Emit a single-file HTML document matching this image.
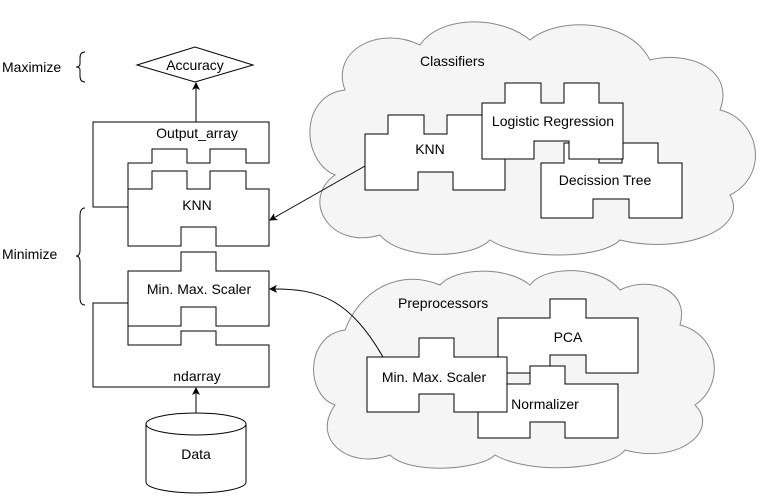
<!DOCTYPE html>
<html><head><style>body{margin:0;background:#fff}svg{display:block}text{font-family:"Liberation Sans",Arial,sans-serif;font-size:14px;fill:#000}</style></head><body>
<svg width="761" height="500" viewBox="0 0 761 500">
<defs><marker id="a" markerWidth="8" markerHeight="8" refX="7" refY="4" orient="auto" markerUnits="userSpaceOnUse"><path d="M0,0 L8,4 L0,8 L2,4 Z" fill="#000"/></marker></defs>
<g fill="#f5f5f5" stroke="#888" stroke-width="1">
<path d="M345,90 C300,95 300,160 335,175 C300,200 330,250 380,235 C400,260 470,260 490,240 C520,260 600,260 620,240 C680,255 750,230 730,195 C770,175 760,120 720,110 C735,70 690,50 650,60 C630,20 560,15 530,40 C500,15 440,15 420,45 C380,25 330,50 345,90 Z"/>
<path d="M345,330 C305,335 305,395 335,405 C310,440 350,470 390,455 C410,475 480,470 495,455 C530,475 610,470 625,450 C680,465 720,430 695,405 C725,385 720,335 680,325 C690,290 650,275 620,290 C600,265 545,265 530,285 C505,265 455,268 440,285 C400,268 360,290 345,330 Z"/>
</g>
<g fill="#fff" stroke="#000" stroke-width="1">
<path d="M365,134 L388,134 L388,115 L424,115 L424,134 L447,134 L447,115 L483,115 L483,134 L505,134 L505,190 L453,190 L453,172 L418,172 L418,190 L365,190 Z"/>
<path d="M541,163 L564,163 L564,143 L599,143 L599,163 L622,163 L622,143 L658,143 L658,163 L682,163 L682,218 L629,218 L629,199 L593,199 L593,218 L541,218 Z"/>
<path d="M482,103 L505,103 L505,83 L541,83 L541,103 L564,103 L564,83 L599,83 L599,103 L623,103 L623,159 L569,159 L569,141 L534,141 L534,159 L482,159 Z"/>
<path d="M498,318 L550,318 L550,299 L586,299 L586,318 L638,318 L638,373 L586,373 L586,355 L550,355 L550,373 L498,373 Z"/>
<path d="M478,384 L530,384 L530,366 L565,366 L565,384 L618,384 L618,438 L565,438 L565,422 L530,422 L530,438 L478,438 Z"/>
<path d="M367,357 L419,357 L419,338 L454,338 L454,357 L507,357 L507,412 L454,412 L454,394 L419,394 L419,412 L367,412 Z"/>
<path d="M93,122 L269,122 L269,163 L246,163 L246,149 L210,149 L210,163 L187,163 L187,149 L152,149 L152,163 L128,163 L128,207 L93,207 Z"/>
<path d="M128,189 L152,189 L152,171 L187,171 L187,189 L210,189 L210,171 L246,171 L246,189 L269,189 L269,246 L216,246 L216,227 L181,227 L181,246 L128,246 Z"/>
<path d="M93,303 L128,303 L128,345 L181,345 L181,331 L216,331 L216,345 L269,345 L269,387 L93,387 Z"/>
<path d="M128,271 L181,271 L181,252 L216,252 L216,271 L269,271 L269,326 L216,326 L216,307 L181,307 L181,326 L128,326 Z"/>
<path d="M137,65 L195,47 L253,65 L195,82 Z"/>
<path d="M146,424 A50,11 0 0 1 246,424 L246,482 A50,11 0 0 1 146,482 Z"/>
<path d="M146,424 A50,11 0 0 0 246,424" fill="none"/>
</g>
<g stroke="#000" fill="none">
<line x1="196" y1="122" x2="196" y2="83" marker-end="url(#a)"/>
<line x1="196" y1="413" x2="196" y2="388" marker-end="url(#a)"/>
<line x1="365" y1="166" x2="270" y2="220" marker-end="url(#a)"/>
<path d="M383,357 C350,300 320,288 270,289" marker-end="url(#a)"/>
<path d="M85,52 Q80,52 80,58 L80,64 Q80,67 76,67 Q80,67 80,70 L80,76 Q80,82 85,82"/>
<path d="M85,208 Q80,208 80,216 L80,250 Q80,256 76,256 Q80,256 80,262 L80,298 Q80,305 85,305"/>
</g>
<text x="2" y="72">Maximize</text>
<text x="2" y="259">Minimize</text>
<text x="195" y="70" text-anchor="middle">Accuracy</text>
<text x="197" y="138" text-anchor="middle">Output_array</text>
<text x="197" y="210" text-anchor="middle">KNN</text>
<text x="199" y="294" text-anchor="middle">Min. Max. Scaler</text>
<text x="197" y="381" text-anchor="middle">ndarray</text>
<text x="196" y="459" text-anchor="middle">Data</text>
<text x="420" y="66">Classifiers</text>
<text x="430" y="154" text-anchor="middle">KNN</text>
<text x="553" y="126" text-anchor="middle">Logistic Regression</text>
<text x="605" y="185" text-anchor="middle">Decission Tree</text>
<text x="398" y="308">Preprocessors</text>
<text x="568" y="342" text-anchor="middle">PCA</text>
<text x="434" y="382" text-anchor="middle">Min. Max. Scaler</text>
<text x="545" y="409" text-anchor="middle">Normalizer</text>
</svg>
</body></html>
